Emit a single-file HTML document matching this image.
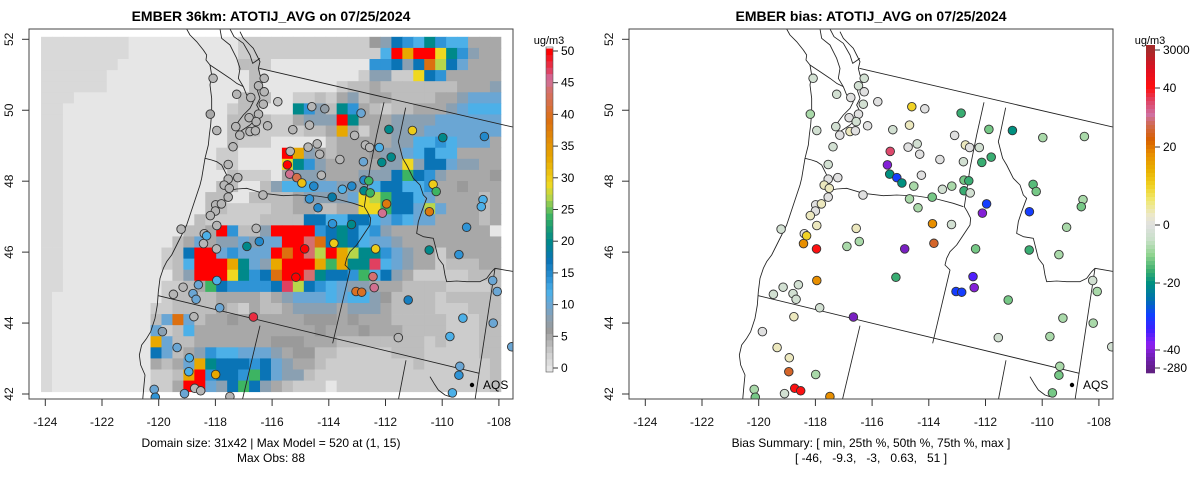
<!DOCTYPE html>
<html><head><meta charset="utf-8"><style>
body{margin:0;background:#fff}
svg{display:block;font-family:"Liberation Sans",Arial,sans-serif}
</style></head><body>
<svg id="fig" width="1200" height="479" viewBox="0 0 1200 479" xmlns="http://www.w3.org/2000/svg">
<defs>
<clipPath id="clipL"><rect x="29" y="29" width="484" height="370"/></clipPath>
<clipPath id="clipR"><rect x="629" y="29" width="484" height="370"/></clipPath>
</defs>
<rect width="1200" height="479" fill="#fff"/>
<text x="271" y="21" text-anchor="middle" font-size="14" font-weight="bold">EMBER 36km: ATOTIJ_AVG on 07/25/2024</text>
<text x="871" y="21" text-anchor="middle" font-size="14" font-weight="bold">EMBER bias: ATOTIJ_AVG on 07/25/2024</text>
<g id="gridL" clip-path="url(#clipL)"></g>
<g id="mapL" clip-path="url(#clipL)"></g>
<g id="mapR" clip-path="url(#clipR)"></g>
<g id="ptsL" clip-path="url(#clipL)"></g>
<g id="ptsR" clip-path="url(#clipR)"></g>
<rect x="29" y="29" width="484" height="370" fill="none" stroke="#444" stroke-width="1"/>
<rect x="629" y="29" width="484" height="370" fill="none" stroke="#444" stroke-width="1"/>
<g id="axes" font-size="12" fill="#111"></g>
<g><circle cx="472" cy="385" r="2.2" fill="#000"/><text x="483" y="389" font-size="12">AQS</text></g>
<g><circle cx="1072" cy="385" r="2.2" fill="#000"/><text x="1083" y="389" font-size="12">AQS</text></g>
<text x="271" y="447" text-anchor="middle" font-size="12">Domain size: 31x42 | Max Model = 520 at (1, 15)</text>
<text x="271" y="462" text-anchor="middle" font-size="12">Max Obs: 88</text>
<text x="871" y="447" text-anchor="middle" font-size="12">Bias Summary: [ min, 25th %, 50th %, 75th %, max ]</text>
<text x="871" y="462" text-anchor="middle" font-size="12" xml:space="preserve">[ -46,   -9.3,   -3,   0.63,   51 ]</text>
<g id="cbL"></g>
<g id="cbR"></g>
<text x="549" y="44" text-anchor="middle" font-size="11">ug/m3</text>
<text x="1150" y="44" text-anchor="middle" font-size="11">ug/m3</text>
</svg>
<script>
// ---- data ----
const xTicks = [-124,-122,-120,-118,-116,-114,-112,-110,-108];
const yTicks = [42,44,46,48,50,52];
const concTicks = [0,5,10,15,20,25,30,35,40,45,50];
const biasTickVals = [3000,40,20,0,-20,-40,-280];
const gridLon0 = -124.15, gridLon1 = -107.93, gridLat0 = 42.065, gridLat1 = 52.07;
const codeValues = {a:0,b:1.2,c:2.5,d:3.5,e:5,f:6,g:8,h:10,i:12,j:14,k:17,l:20,m:24,n:27,o:29,p:33,q:39,r:44,s:47,t:50};
const gridRows = [
"bbbbbbbbaaaaaaaaaaccccccccccccfgkjiljiieee",
"bbbbbbbbaaaaaaaaaacccccccccccccitpttoljgee",
"bbbbbbbaaaaaaaaaaaddcaaaaaaaaajjkgkqnkheee",
"bbbbbbaaaaaaaaaaaaadaaaaaaaaacggccokjeeeee",
"bbbbbbaaaaaaaaaaaaadaaaaaaacddedddddddeeeg",
"bbbaaaaaaaaaaaaaaadddaaccdcegdeeddddeeghhh",
"bbaaaaaaaaaaaaaaacddaaaljgdljedcddeeeghiii",
"bbaaaaaaaaaaaaaaaddddccegggtleeegggghhhhhh",
"bbaaaaaaaaaaaaaaadddccccddepeceeggghhhhhhh",
"bbaaaaaaaaaaaaaaadcccaaaaadeeeeeggiijihhhe",
"bbaaaaaaaaaaaaaaccaaaatpgedeeefgghikiieeee",
"bbaaaaaaaaaaaaaaccaaaaoljgeeeeeggogkkhggee",
"bbaaaaaaaaaaaaaaadcccaegggeeegggkmkjgeeeef",
"bbaaaaaaaaaaaaaaddaadgiiihhgggikkiijeefeee",
"bbaaaaaaaaaaaaaddaaddddegggghonmkkiheeeede",
"bbaaaaaaaaaaaaaddccccddeeddeeoomkkhnheeede",
"bbaaaaaaaaaaaadcccccddddkkiikkihjihheeeede",
"bbaaaaaaaaaaaddetjddgttttjklkijgeeeeeeeee",
"bbaaaaaaaaaadeheggh ghhttrqklkihhgeeeeeeeee",
"bbaaaaaaaaacdktthjhhhtqtrntpnlljhgeeceeeee",
"bbaaaaaaaaacditttplhgptttpmpllsihgeecdddee",
"bbaaaaaaaaaadgtttoljkqttrlkkjmikgecccccddd",
"bbaaaaaaaaaccdemkjjjjksnkjihggeeeddddccccd",
"baaaaaaaaaacddddeeeedeghhhihiigfddddcddddd",
"baaaaaaaaaccddddedceddeggggegggeddddcccddd",
"baaaaaaaaadhqhdeefeeeeeefffefeeedddddcccdd",
"baaaaaaaaahcdieeeeeeeeeeefeeefeeeddddcccdd",
"baaaaaaaaaphddeeeeeeefffeeeddddddddcdcccdd",
"baaaaaaaaakhdegjiihhhgeffddcccccdddcccccdd",
"baaaaaaaaaedehplkkkjkhgeedccccccccdccccccd",
"baaaaaaaaaccdptjkkjmkhggdccccccccccccccccd",
"baaaaaaaaaccetthgkmkgedcccaccccccccccccccd"
];
const siteLon = [-118.08,-116.28,-116.48,-116.28,-117.25,-116.75,-115.80,-116.31,-114.60,-114.14,-112.86,-118.18,-116.81,-116.48,-116.56,-116.16,-114.68,-117.28,-117.95,-115.27,-116.78,-116.59,-117.14,-113.09,-111.88,-111.05,-109.98,-108.51,-117.38,-114.73,-114.41,-112.71,-112.56,-112.22,-115.36,-114.32,-111.80,-112.13,-113.61,-112.78,-115.46,-117.55,-115.38,-114.26,-115.13,-114.95,-114.53,-112.76,-112.59,-113.19,-113.52,-112.76,-112.54,-110.32,-110.21,-117.21,-117.55,-117.69,-117.51,-117.55,-116.32,-114.68,-113.88,-114.38,-111.96,-112.11,-110.45,-108.56,-108.62,-109.14,-117.99,-117.79,-118.00,-118.18,-117.95,-119.21,-116.56,-113.87,-113.20,-118.39,-118.31,-118.42,-117.96,-116.89,-116.45,-114.85,-113.82,-112.35,-110.46,-109.41,-117.95,-115.16,-119.14,-118.60,-119.48,-118.79,-118.68,-112.44,-112.40,-113.04,-112.84,-111.20,-108.22,-108.06,-117.85,-116.66,-118.76,-109.27,-108.20,-119.87,-111.55,-109.73,-107.55,-119.35,-118.92,-118.94,-117.99,-109.38,-109.41,-120.16,-120.12,-119.09,-118.73,-118.52,-117.49,-109.64];
const siteLat = [50.90,50.90,50.69,50.52,50.45,50.36,50.24,50.17,50.10,50.04,49.92,49.89,49.79,49.89,49.68,49.56,49.58,49.54,49.43,49.45,49.40,49.42,49.30,49.29,49.46,49.43,49.23,49.26,48.97,48.96,49.05,49.02,48.95,48.95,48.84,48.76,48.68,48.53,48.61,48.55,48.46,48.47,48.20,48.17,48.10,47.95,47.86,48.03,48.01,47.86,47.77,47.73,47.67,47.91,47.71,48.10,48.06,47.89,47.80,47.55,47.61,47.50,47.55,47.25,47.36,47.10,47.14,47.48,47.28,46.70,47.33,47.36,47.16,47.03,46.75,46.65,46.67,46.80,46.78,46.52,46.46,46.24,46.09,46.16,46.30,46.09,46.25,46.09,46.06,45.93,45.20,45.29,45.01,45.08,44.81,44.83,44.67,45.31,45.00,44.89,44.87,44.65,45.20,44.89,44.43,44.17,44.18,44.14,44.00,43.76,43.59,43.62,43.33,43.31,43.02,42.63,42.55,42.78,42.53,42.13,41.91,42.01,42.16,42.09,41.93,42.03];
const obsValues = [4,4,4,4,4,4,3,4,4,7,10,5,4,4,4,4,4,4,4,4,4,4,4,4,20,30,20,15,4,4,4,4,4,12,4,4,20,20,4,10,50,4,45,4,42,31,15,15,24,15,12,20,24,30,24,4,4,4,4,4,4,14,18,15,38,45,38,12,12,14,4,4,4,4,4,4,4,14,20,4,12,4,4,20,15,50,30,30,20,14,12,50,4,10,4,10,10,44,45,40,40,16,10,10,10,48,4,12,10,8,4,12,10,10,12,12,33,10,14,10,14,10,4,4,4,12];
const biasValues = [-3,-3,-3,0,-3,0,0,-3,10,0,-16,-8,0,0,-3,0,3,-3,-3,-3,3,0,0,0,-12,-20,-8,-8,-3,0,-3,3,0,-3,35,0,-16,-16,0,-3,-40,-3,-20,0,-30,-20,-8,-12,-16,-8,-3,-16,-3,-14,-12,0,0,3,3,0,0,-8,-12,-8,-30,-40,-30,-8,-12,-8,0,3,0,3,3,-3,3,18,-3,0,10,18,100,-8,-8,-100,25,-12,-16,-8,18,-16,-3,-3,-3,-3,-3,-35,-40,-30,-30,-12,-3,-8,-3,-100,3,-8,-8,0,-3,-8,-3,3,3,25,-8,-8,-12,-8,-12,-3,100,100,18,-12];

// ---- scales ----
const xS = (lon, off) => off + 45.3 + (lon + 124) * 28.35;
const yS = lat => 394 - (lat - 42) * 35.47;
const concStops = [[0,'#e6e6e6'],[1.2,'#d9d9d9'],[2.5,'#cccccc'],[3.5,'#bdbdbd'],[5,'#a8a8a8'],[6,'#9a9a9a'],[8,'#8aa0b2'],[10,'#6aa6d4'],[12,'#4cb0e8'],[14,'#2f94d6'],[17,'#0a74b6'],[20,'#00898a'],[22.5,'#1fa070'],[24,'#3db462'],[27,'#b8d64a'],[29,'#f0d820'],[33,'#e8a800'],[39,'#dc7010'],[44,'#d47070'],[45.5,'#d070a0'],[47,'#e04060'],[50,'#ff0000']];
const biasYStops = [[50,'#a52a2a'],[70,'#e01020'],[88,'#ff1010'],[100,'#e04060'],[115,'#d070a0'],[125,'#d06a50'],[140,'#d86000'],[155,'#e89000'],[170,'#e8b000'],[185,'#f0d020'],[200,'#f0e870'],[215,'#ece8c8'],[225,'#e0e0e0'],[240,'#c8e0c8'],[255,'#90d490'],[270,'#40b070'],[283,'#009080'],[300,'#0070b0'],[315,'#1040ff'],[330,'#4020ff'],[345,'#9020f0'],[358,'#7020b0'],[372,'#602080']];
const biasTickY = [50,88,147,225,283,350,368];
function hex(h){return [1,3,5].map(i=>parseInt(h.substr(i,2),16));}
function interp(stops,v){
  if(v<=stops[0][0]) return stops[0][1];
  for(let i=1;i<stops.length;i++){ if(v<=stops[i][0]){const a=stops[i-1],b=stops[i];const t=(v-a[0])/(b[0]-a[0]);const ca=hex(a[1]),cb=hex(b[1]);return 'rgb('+ca.map((c,k)=>Math.round(c+(cb[k]-c)*t)).join(',')+')';}}
  return stops[stops.length-1][1];
}
const concColor = v => interp(concStops, Math.min(50, v));
function biasY(v){
  if(v>=biasTickVals[0]) return biasTickY[0];
  for(let i=1;i<biasTickVals.length;i++){ if(v>=biasTickVals[i]){const t=(v-biasTickVals[i-1])/(biasTickVals[i]-biasTickVals[i-1]);return biasTickY[i-1]+t*(biasTickY[i]-biasTickY[i-1]);}}
  return biasTickY[biasTickY.length-1];
}
function biasColor(v){ if(v>40) v = 40 + (v-40)*0.001; if(v>40) return interp(biasYStops, 88-(v-40)*20); return interp(biasYStops, biasY(v)); }

const NS='http://www.w3.org/2000/svg';
function mk(tag, attrs, parent){const e=document.createElementNS(NS,tag);for(const k in attrs)e.setAttribute(k,attrs[k]);parent.appendChild(e);return e;}

// ---- grid ----
const gL = document.getElementById('gridL');
const nC = 42, nR = gridRows.length;
const dLon = (gridLon1-gridLon0)/nC, dLat = (gridLat1-gridLat0)/nR;
gridRows.forEach((row, r) => {
  const cells = row.replace(/ /g,'');
  for (let c = 0; c < nC; c++) {
    const v = codeValues[cells[c]] ?? 0;
    const x0 = xS(gridLon0 + c*dLon, 0), x1 = xS(gridLon0 + (c+1)*dLon, 0);
    const y0 = yS(gridLat1 - r*dLat), y1 = yS(gridLat1 - (r+1)*dLat);
    const el = mk('rect', {x:x0.toFixed(2), y:y0.toFixed(2), width:(x1-x0+0.4).toFixed(2), height:(y1-y0+0.4).toFixed(2), fill:concColor(v)}, gL);
    
    
  }
});

// ---- map boundaries (drawn in 3x zoomed local coordinates) ----
const mapLines = [
"470,12 480,30 500,50 520,75 530,90 528,105 540,120 545,150 540,180 545,220 545,260 542,300 538,330 535,360 530,380 525,400 520,430 515,460 510,480 500,510 490,540 480,570 470,600 455,630 440,660 425,690 410,710 400,730 390,760 385,800 382,840 375,880 362,920 350,940 335,960 328,990 332,1020 345,1050 342,1080 338,1125",
"570,12 575,40 600,60 610,80 620,100 630,130 625,160 640,185 650,210 670,230 660,250 640,270 625,290 615,310 630,320 660,300 680,280 690,260 680,240 690,220 680,190 700,170 690,150 685,130 690,110 680,90 670,70 660,60 640,40 630,20",
"540,120 570,140 600,160 620,175 640,185",
"600,12 612,35 640,55 660,90 668,115 690,100",
"525,400 545,405 560,410 575,420 585,440 595,460 600,480 605,495 620,492 650,490 700,505 760,512 800,510 860,513 920,522 970,535 1000,545",
"1062,232 1040,330 1020,430 1003,545 1012,560 1022,580 1020,600 1000,630 980,660 960,680 950,700 945,720 960,735 908,955",
"688,130 1452,307",
"385,812 1348,1045",
"1127,248 1110,330 1105,350 1118,400 1130,420 1150,460 1170,480 1180,510 1190,520 1175,560 1165,590 1160,625 1180,635 1210,640 1220,680 1225,700 1240,720 1245,750 1250,770 1280,768 1310,770 1350,770 1370,760 1385,740 1395,730 1452,740",
"1395,730 1335,1125",
"690,902 637,1125",
"1128,1006 1105,1125",
"1200,1055 1212,1075 1225,1095 1245,1110 1260,1115"
];
[['mapL',30],['mapR',630]].forEach(([id,ox]) => {
  const g = document.getElementById(id);
  const inner = mk('g', {transform:'translate('+ox+',25) scale(0.33333)', fill:'none', stroke:'#222', 'stroke-width':'2.6', 'stroke-linejoin':'round'}, g);
  mapLines.forEach(pts => {
    const pl = mk('polyline', {points:pts}, inner);
    
    
  });
});

// ---- sites ----
const pL = document.getElementById('ptsL'), pR = document.getElementById('ptsR');
siteLon.forEach((lon, i) => {
  const lat = siteLat[i];
  const a = mk('circle', {cx:xS(lon,0).toFixed(1), cy:yS(lat).toFixed(1), r:4.3, fill:concColor(obsValues[i]), stroke:'#333', 'stroke-width':0.9}, pL);
  
  
  const b = mk('circle', {cx:xS(lon,600).toFixed(1), cy:yS(lat).toFixed(1), r:4.3, fill:biasColor(biasValues[i]), stroke:'#333', 'stroke-width':0.9}, pR);
  
  
});

// ---- axes ----
const ax = document.getElementById('axes');
[0,600].forEach(off => {
  xTicks.forEach(t => {
    const x = xS(t, off);
    const l = mk('line', {x1:x, x2:x, y1:399, y2:406, stroke:'#333'}, ax);
    
    
    const tx = mk('text', {x:x, y:426, 'text-anchor':'middle'}, ax);
    tx.textContent = t;
    
    
  });
  yTicks.forEach(t => {
    const y = yS(t);
    const l = mk('line', {x1:off+22, x2:off+29, y1:y, y2:y, stroke:'#333'}, ax);
    
    
    const tx = mk('text', {x:off+13, y:y, 'text-anchor':'middle', transform:'rotate(-90 '+(off+13)+' '+y+')'}, ax);
    tx.textContent = t;
    
    
  });
});

// ---- colorbars ----
const cbL = document.getElementById('cbL');
const cY = v => 368 - v * 6.34;
for (let k = 0; k < 51; k++) {
  const v0 = -0.6 + k, v1 = v0 + 1;
  const r = mk('rect', {x:546, y:cY(Math.min(v1,50.6)), width:7, height:cY(v0)-cY(Math.min(v1,50.6))+0.3, fill:concColor(Math.max(0,v0+0.5))}, cbL);
  
  
}
concTicks.forEach(t => {
  const y = cY(t);
  const l = mk('line', {x1:553, x2:558, y1:y, y2:y, stroke:'#333'}, cbL);
  
  
  const tx = mk('text', {x:561, y:y+4, 'font-size':12}, cbL);
  tx.textContent = t;
  
  
});
mk('rect', {x:546, y:47, width:7, height:325, fill:'none', stroke:'#555', 'stroke-width':0.6}, cbL);

const cbR = document.getElementById('cbR');
for (let y = 45; y < 372; y += 4) {
  const r = mk('rect', {x:1146, y:y, width:9, height:4.3, fill:interp(biasYStops, y+2)}, cbR);
  
  
}
biasTickVals.forEach((t, i) => {
  const y = biasY(t);
  const l = mk('line', {x1:1155, x2:1160, y1:y, y2:y, stroke:'#333'}, cbR);
  
  
  const tx = mk('text', {x:1163, y:y+4, 'font-size':12}, cbR);
  tx.textContent = t;
  
  
});
</script>
</body></html>
